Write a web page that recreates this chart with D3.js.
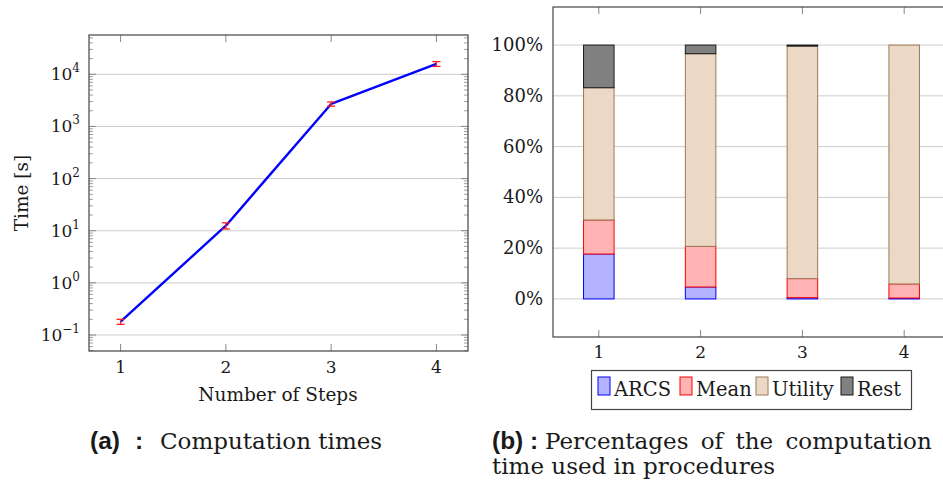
<!DOCTYPE html>
<html>
<head>
<meta charset="utf-8">
<script src="https://cdn.jsdelivr.net/npm/d3@7"></script>
<style>
  body { margin: 0; background: #fff; }
  text { font-family: "DejaVu Serif", serif; fill: #1a1a1a; }
  .cap { font-family: "Liberation Sans", sans-serif; font-weight: bold; font-size: 24.5px; }
</style>
</head>
<body>
<div class="wrapper"></div>
<script>
// ---------- data: left chart (computation times) ----------
var steps = [1, 2, 3, 4];
var timeMean = [0.18, 12.5, 2700, 15800];
var timeLow = [0.16, 10.8, 2450, 14200];
var timeHigh = [0.20, 14.2, 2950, 17500];
var logTicks = [-1, 0, 1, 2, 3, 4];

// ---------- data: right chart (percentages) ----------
var procedures = ["ARCS", "Mean", "Utility", "Rest"];
var arcsPct = [17.7, 4.7, 0.5, 0.35];
var meanPct = [13.4, 16.0, 7.5, 5.55];
var utilityPct = [52.1, 75.9, 91.6, 94.1];
var restPct = [16.8, 3.4, 0.4, 0.0];
var pctTicks = [0, 20, 40, 60, 80, 100];

var W = 943, H = 490;
var svg = d3.select(".wrapper").append("svg")
	.attr("width", W)
	.attr("height", H);

var GRID = "#cdcdcd", AXIS = "#444", TICK = "#888";
var TICK_FS = 17, LABEL_FS = 18.5, LEG_FS = 19.5, CAP_FS = 23;

// ================= left chart =================
var L = {x0: 89, x1: 468, y0: 35, y1: 351};
var xl = d3.scaleLinear().domain([0.7, 4.3]).range([L.x0, L.x1]);
var yl = d3.scaleLog().domain([Math.pow(10, -1.307), Math.pow(10, 4.754)]).range([L.y1, L.y0]);

var gl = svg.append("g");

// major grid
gl.selectAll(".grid").data(logTicks).enter().append("line")
	.attr("x1", L.x0).attr("x2", L.x1)
	.attr("y1", function(d) {return yl(Math.pow(10, d));})
	.attr("y2", function(d) {return yl(Math.pow(10, d));})
	.attr("stroke", GRID).attr("stroke-width", 1);

// minor ticks on left and right
var minors = [];
for (var k = -2; k <= 4; k++) {
	for (var m = 2; m <= 9; m++) {
		var v = m * Math.pow(10, k);
		if (v >= yl.domain()[0] && v <= yl.domain()[1]) minors.push(v);
	}
}
[[L.x0, 1], [L.x1, -1]].forEach(function(s) {
	gl.selectAll(null).data(minors).enter().append("line")
		.attr("x1", s[0]).attr("x2", s[0] + s[1] * 4)
		.attr("y1", function(d) {return yl(d);})
		.attr("y2", function(d) {return yl(d);})
		.attr("stroke", TICK).attr("stroke-width", 0.8);
	gl.selectAll(null).data(logTicks).enter().append("line")
		.attr("x1", s[0]).attr("x2", s[0] + s[1] * 7)
		.attr("y1", function(d) {return yl(Math.pow(10, d));})
		.attr("y2", function(d) {return yl(Math.pow(10, d));})
		.attr("stroke", TICK).attr("stroke-width", 1);
});

// x ticks top & bottom
[[L.y1, -1], [L.y0, 1]].forEach(function(s) {
	gl.selectAll(null).data(steps).enter().append("line")
		.attr("x1", function(d) {return xl(d);})
		.attr("x2", function(d) {return xl(d);})
		.attr("y1", s[0]).attr("y2", s[0] + s[1] * 7)
		.attr("stroke", TICK).attr("stroke-width", 1);
});

// x tick labels
gl.selectAll(".xlab").data(steps).enter().append("text")
	.attr("x", function(d) {return xl(d);})
	.attr("y", 373)
	.attr("text-anchor", "middle")
	.attr("font-size", TICK_FS)
	.text(function(d) {return d;});

// y tick labels 10^k
var ylab = gl.selectAll(".ylab").data(logTicks).enter().append("text")
	.attr("x", 80)
	.attr("y", function(d) {return yl(Math.pow(10, d)) + 6;})
	.attr("text-anchor", "end")
	.attr("font-size", TICK_FS);
ylab.append("tspan").text("10");
ylab.append("tspan")
	.attr("dy", -8)
	.attr("font-size", 12)
	.text(function(d) {return d < 0 ? "\u2212" + (-d) : d;});

// axis labels
gl.append("text")
	.attr("x", 278).attr("y", 401)
	.attr("text-anchor", "middle").attr("font-size", LABEL_FS)
	.text("Number of Steps");
gl.append("text")
	.attr("transform", "translate(28," + ((L.y0 + L.y1) / 2) + ") rotate(-90)")
	.attr("text-anchor", "middle").attr("font-size", LABEL_FS)
	.text("Time [s]");

// line
var line = d3.line()
	.x(function(d, i) {return xl(steps[i]);})
	.y(function(d) {return yl(d);});
gl.append("path")
	.datum(timeMean)
	.attr("d", line)
	.attr("fill", "none")
	.attr("stroke", "#0000ff")
	.attr("stroke-width", 2.4)
	.attr("stroke-linejoin", "round");

// error bars
var eb = gl.selectAll(".err").data(steps).enter().append("g").attr("stroke", "#ff2020").attr("stroke-width", 1.3);
eb.append("line")
	.attr("x1", function(d) {return xl(d);}).attr("x2", function(d) {return xl(d);})
	.attr("y1", function(d, i) {return yl(timeLow[i]);})
	.attr("y2", function(d, i) {return yl(timeHigh[i]);});
eb.append("line")
	.attr("x1", function(d) {return xl(d) - 4;}).attr("x2", function(d) {return xl(d) + 4;})
	.attr("y1", function(d, i) {return yl(timeLow[i]);})
	.attr("y2", function(d, i) {return yl(timeLow[i]);});
eb.append("line")
	.attr("x1", function(d) {return xl(d) - 4;}).attr("x2", function(d) {return xl(d) + 4;})
	.attr("y1", function(d, i) {return yl(timeHigh[i]);})
	.attr("y2", function(d, i) {return yl(timeHigh[i]);});

// box
gl.append("rect")
	.attr("x", L.x0).attr("y", L.y0)
	.attr("width", L.x1 - L.x0).attr("height", L.y1 - L.y0)
	.attr("fill", "none").attr("stroke", AXIS).attr("stroke-width", 1.2);

// ================= right chart =================
var R = {x0: 553, x1: 950, y0: 7, y1: 337};
var xr = d3.scaleLinear().domain([0.55, 4.45]).range([R.x0, R.x1]);
var yr = d3.scaleLinear().domain([-15, 115]).range([R.y1, R.y0]);

var gr = svg.append("g");

gr.selectAll(".grid").data(pctTicks).enter().append("line")
	.attr("x1", R.x0).attr("x2", R.x1)
	.attr("y1", function(d) {return yr(d);}).attr("y2", function(d) {return yr(d);})
	.attr("stroke", GRID).attr("stroke-width", 1);

[[R.y1, -1], [R.y0, 1]].forEach(function(s) {
	gr.selectAll(null).data(steps).enter().append("line")
		.attr("x1", function(d) {return xr(d);})
		.attr("x2", function(d) {return xr(d);})
		.attr("y1", s[0]).attr("y2", s[0] + s[1] * 7)
		.attr("stroke", TICK).attr("stroke-width", 1);
});

var table = steps.map(function(s, i) {
	return {step: s, ARCS: arcsPct[i], Mean: meanPct[i], Utility: utilityPct[i], Rest: restPct[i]};
});
var stacked = d3.stack().keys(procedures)(table);

var fills = {ARCS: "#b3b3ff", Mean: "#ffb3b3", Utility: "#ebd9c5", Rest: "#808080"};
var strokes = {ARCS: "#0000ff", Mean: "#ff0000", Utility: "#9c7a58", Rest: "#1a1a1a"};
var BAR_W = 0.3;

var layers = gr.selectAll(".layer").data(stacked).enter().append("g")
	.attr("fill", function(d) {return fills[d.key];})
	.attr("stroke", function(d) {return strokes[d.key];})
	.attr("stroke-width", 1);

layers.selectAll("rect")
	.data(function(d) {return d.filter(function(p) {return p[1] - p[0] > 0;});})
	.enter().append("rect")
	.attr("x", function(d) {return xr(d.data.step - BAR_W / 2);})
	.attr("width", xr(BAR_W) - xr(0))
	.attr("y", function(d) {return yr(d[1]);})
	.attr("height", function(d) {return yr(d[0]) - yr(d[1]);});

gr.selectAll(".xlab").data(steps).enter().append("text")
	.attr("x", function(d) {return xr(d);})
	.attr("y", 358)
	.attr("text-anchor", "middle")
	.attr("font-size", TICK_FS)
	.text(function(d) {return d;});

gr.selectAll(".ylab").data(pctTicks).enter().append("text")
	.attr("x", 543)
	.attr("y", function(d) {return yr(d) + 6;})
	.attr("text-anchor", "end")
	.attr("font-size", 18)
	.text(function(d) {return d + "%";});

gr.append("rect")
	.attr("x", R.x0).attr("y", R.y0)
	.attr("width", R.x1 - R.x0).attr("height", R.y1 - R.y0)
	.attr("fill", "none").attr("stroke", AXIS).attr("stroke-width", 1.2);

// legend
var leg = gr.append("g");
leg.append("rect")
	.attr("x", 591.5).attr("y", 370.5).attr("width", 320).attr("height", 39)
	.attr("fill", "#fff").attr("stroke", AXIS).attr("stroke-width", 1.2);
var legX = [598, 680, 756, 841];
var items = leg.selectAll(".item").data(procedures).enter().append("g")
	.attr("transform", function(d, i) {return "translate(" + legX[i] + ",0)";});
items.append("rect")
	.attr("x", 0).attr("y", 377).attr("width", 12).attr("height", 18)
	.attr("fill", function(d) {return fills[d];})
	.attr("stroke", function(d) {return strokes[d];});
items.append("text")
	.attr("x", 16).attr("y", 396)
	.attr("font-size", LEG_FS)
	.text(function(d) {return d;});

// ================= captions =================
var capA = svg.append("text").attr("y", 449).attr("font-size", CAP_FS);
capA.append("tspan").attr("class", "cap").attr("x", 90).text("(a)");
capA.append("tspan").attr("class", "cap").attr("x", 135).text(":");
capA.append("tspan").attr("x", 160).text("Computation times");

var capB = svg.append("text").attr("y", 449).attr("font-size", CAP_FS);
capB.append("tspan").attr("class", "cap").attr("x", 492).text("(b)");
capB.append("tspan").attr("class", "cap").attr("x", 530).text(":");
capB.append("tspan").attr("x", 545).attr("word-spacing", 5).text("Percentages of the computation");
svg.append("text").attr("x", 492).attr("y", 474).attr("font-size", CAP_FS)
	.text("time used in procedures");
</script>
</body>
</html>
